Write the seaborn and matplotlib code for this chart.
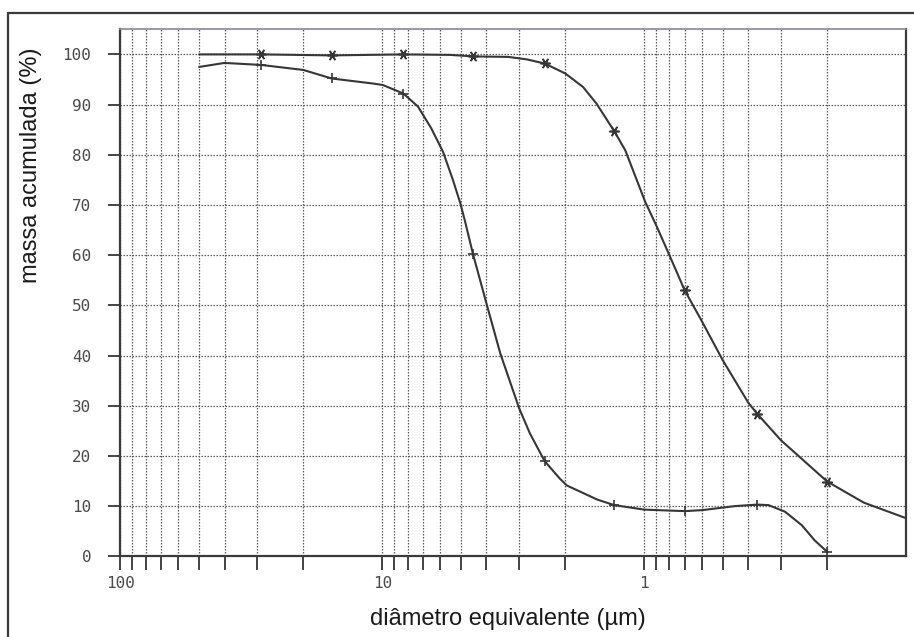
import numpy as np
import pandas as pd
import matplotlib
matplotlib.use("Agg")
import matplotlib.pyplot as plt
from matplotlib.ticker import LogLocator, FixedLocator, NullFormatter, FixedFormatter
from matplotlib.lines import Line2D
import seaborn as sns

# Cumulative mass curves (equivalent diameter in µm, cumulative mass in %)
upper_diam = [50, 29, 15.6, 8.3, 5.5, 4.5, 3.3, 2.8, 2.4, 2.0, 1.71, 1.52,
              1.3, 1.18, 0.99, 0.90, 0.81, 0.70, 0.61, 0.50, 0.40, 0.37,
              0.30, 0.20, 0.145, 0.10]
upper_mass = [100, 100, 99.8, 100, 99.9, 99.6, 99.5, 99.0, 98.2, 96.2, 93.5,
              90.2, 84.7, 80.9, 70.6, 66.0, 60.6, 53.0, 47.4, 39.0, 30.6,
              28.4, 23.1, 14.9, 10.7, 7.6]

lower_diam = [50, 40, 29, 20, 15.6, 10.86, 9.94, 8.3, 7.3, 6.5, 5.86, 5.37,
              5.03, 4.83, 4.5, 4.0, 3.54, 3.0, 2.73, 2.4, 2.1, 1.97, 1.51,
              1.3, 1.0, 0.70, 0.60, 0.45, 0.37, 0.335, 0.29, 0.25, 0.2235,
              0.20]
lower_mass = [97.5, 98.3, 97.9, 96.9, 95.2, 94.2, 93.9, 92.2, 89.6, 85.3,
              80.6, 75.0, 70.3, 66.8, 60.2, 50.4, 40.4, 29.5, 24.5, 19.0,
              15.5, 14.1, 11.3, 10.2, 9.3, 9.0, 9.2, 10.0, 10.3, 10.2, 8.9,
              6.2, 3.2, 0.9]

# Measured points shown with markers
point_diam = [29, 15.6, 8.3, 4.5, 2.4, 1.3, 0.70, 0.37, 0.20]
upper_points = [100, 99.8, 100, 99.6, 98.2, 84.7, 53.0, 28.4, 14.9]
lower_points = [97.9, 95.2, 92.2, 60.2, 19.0, 10.2, 9.0, 10.3, 0.9]

y_ticks = [0, 10, 20, 30, 40, 50, 60, 70, 80, 90, 100]
x_tick_labels = ["100", "10", "1"]
x_tick_values = [100, 10, 1]

sns.set_theme(style="white")
plt.rcParams["font.family"] = ["Liberation Sans", "DejaVu Sans"]

fig = plt.figure(figsize=(9.14, 6.37), dpi=100)
ax = fig.add_axes([120.3 / 914, 1 - 556.3 / 637, (906 - 120.3) / 914,
                   (556.3 - 29.3) / 637])

ink = "#363636"
curves = pd.concat([
    pd.DataFrame({"d": upper_diam, "m": upper_mass, "s": "u"}),
    pd.DataFrame({"d": lower_diam, "m": lower_mass, "s": "l"}),
])
sns.lineplot(data=curves, x="d", y="m", units="s", estimator=None, sort=False,
             color=ink, linewidth=1.5, ax=ax, legend=False)

sns.scatterplot(x=point_diam, y=upper_points, marker=(6, 2, 90), s=45,
                color=ink, linewidth=1.2, ax=ax, legend=False, zorder=4)
sns.scatterplot(x=point_diam, y=lower_points, marker="+", s=55,
                color=ink, linewidth=1.2, ax=ax, legend=False, zorder=4)

ax.set_xscale("log")
ax.set_xlim(100, 0.1)
ax.set_ylim(0, 105)

# ticks: every decade subdivision gets a tick and a grid line
ax.xaxis.set_major_locator(FixedLocator(x_tick_values))
ax.xaxis.set_major_formatter(FixedFormatter(x_tick_labels))
ax.xaxis.set_minor_locator(LogLocator(base=10, subs=np.arange(2, 10)))
ax.xaxis.set_minor_formatter(NullFormatter())
ax.set_yticks(y_ticks)
ax.set_yticklabels([str(v) for v in y_ticks])

for lab in ax.get_xticklabels() + ax.get_yticklabels():
    lab.set_fontfamily("DejaVu Sans Mono")
    lab.set_fontsize(11.5)
    lab.set_color("#4a4a4a")

ax.tick_params(axis="x", which="both", direction="out", length=10,
               width=1.4, color="#444444", pad=4, bottom=True)
ax.tick_params(axis="y", which="major", direction="out", length=9,
               width=1.4, color="#444444", pad=12, left=True)

grid_kw = dict(color="#5a5a5a", linestyle=(0, (1.2, 1.2)), linewidth=0.9)
ax.grid(True, which="major", axis="both", **grid_kw)
ax.grid(True, which="minor", axis="x", **grid_kw)
ax.set_axisbelow(True)

for side in ["left", "bottom", "right"]:
    ax.spines[side].set_color("#3a3a3a")
    ax.spines[side].set_linewidth(1.6)
ax.spines["top"].set_color("#8a8496")
ax.spines["top"].set_linewidth(1.2)

ax.set_xlabel("")
ax.set_ylabel("")

fig.text(508 / 914, 1 - 619 / 637, "diâmetro equivalente (µm)",
         ha="center", va="center", fontsize=17, color="#1a1a1a")
fig.text(31 / 914, 1 - 165 / 637, "massa acumulada (%)", rotation=90,
         ha="center", va="center", fontsize=17, color="#1a1a1a")

# outer frame around the figure
fig.add_artist(Line2D([8 / 914, 8 / 914], [0, 1 - 13 / 637],
                      transform=fig.transFigure, color="#3a3a3a", lw=1.6))
fig.add_artist(Line2D([8 / 914, 1], [1 - 13 / 637, 1 - 13 / 637],
                      transform=fig.transFigure, color="#3a3a3a", lw=1.6))

fig.savefig("out.png", dpi=100)
